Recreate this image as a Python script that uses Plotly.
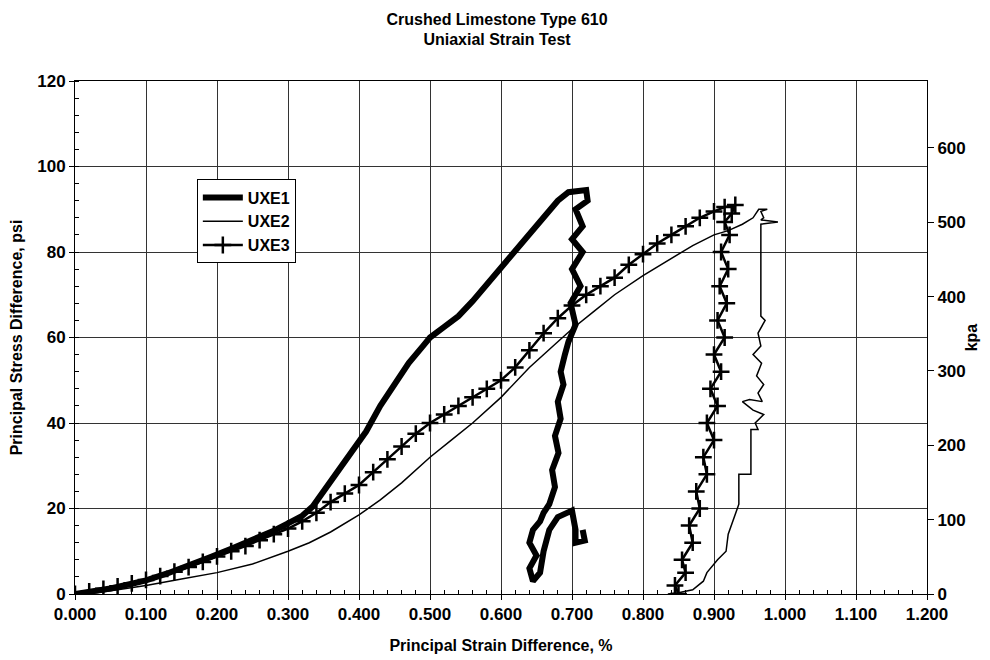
import plotly.graph_objects as go

# ---------------- data ----------------
uxe1_strain = [0.000, 0.020, 0.050, 0.080, 0.100, 0.130, 0.160, 0.190, 0.220, 0.250, 0.280, 0.300,
               0.320, 0.335, 0.350, 0.365, 0.380, 0.395, 0.410, 0.430, 0.450, 0.470, 0.490, 0.500,
               0.520, 0.540, 0.560, 0.580, 0.600, 0.620, 0.640, 0.660, 0.680, 0.695, 0.720,
               0.722, 0.705, 0.715, 0.700, 0.715, 0.700, 0.712, 0.698, 0.705, 0.695, 0.690, 0.684,
               0.688, 0.680, 0.684, 0.676, 0.681, 0.672, 0.676, 0.668, 0.660, 0.655, 0.645, 0.640,
               0.650, 0.640, 0.645, 0.655, 0.660, 0.668, 0.680, 0.700, 0.705, 0.705, 0.718, 0.715]
uxe1_psi = [0.0, 0.5, 1.3, 2.4, 3.2, 4.8, 6.6, 8.6, 10.6, 12.6, 14.8, 16.5,
            18.3, 20.5, 24.0, 27.5, 31.0, 34.0, 38.0, 44.0, 49.0, 54.0, 58.0, 60.0,
            62.5, 65.0, 68.5, 72.5, 76.5, 80.5, 84.5, 88.0, 92.0, 94.0, 94.5,
            92.0, 90.0, 86.0, 83.0, 80.0, 76.0, 72.0, 68.0, 63.0, 59.0, 56.0, 52.0,
            49.0, 45.0, 41.0, 37.0, 33.0, 29.0, 25.0, 21.0, 19.0, 17.0, 15.0, 12.0,
            9.0, 6.0, 3.0, 5.0, 10.0, 15.0, 18.0, 19.5, 15.0, 12.0, 12.5, 15.0]

uxe2_strain = [0.000, 0.030, 0.060, 0.100, 0.150, 0.200, 0.250, 0.300, 0.330, 0.360, 0.400, 0.430,
               0.460, 0.500, 0.530, 0.560, 0.600, 0.640, 0.680, 0.700, 0.730, 0.760, 0.800, 0.840,
               0.870, 0.900, 0.920, 0.940, 0.955, 0.963, 0.975, 0.966, 0.970, 0.966, 0.990, 0.966,
               0.966, 0.972, 0.962, 0.966, 0.955, 0.967, 0.960, 0.970, 0.962, 0.968, 0.950, 0.940,
               0.955, 0.970, 0.958, 0.962, 0.952, 0.952, 0.935, 0.935, 0.930, 0.920, 0.917, 0.905,
               0.890, 0.885, 0.870, 0.850, 0.835]
uxe2_psi = [0.0, 0.3, 1.0, 2.0, 3.5, 5.0, 7.0, 10.0, 12.0, 14.5, 18.5, 22.0,
            26.0, 32.0, 36.0, 40.0, 46.0, 53.0, 59.0, 62.0, 66.0, 70.0, 74.5, 78.5,
            81.5, 84.0, 85.0, 86.5, 88.0, 90.0, 90.0, 89.5, 88.0, 87.5, 87.0, 86.5,
            65.0, 64.0, 61.0, 58.0, 56.0, 54.0, 51.0, 49.0, 47.0, 45.0, 45.5, 45.0,
            43.0, 42.0, 40.0, 38.5, 38.5, 28.0, 28.0, 21.0, 18.5, 14.0, 10.0, 8.0,
            5.0, 3.0, 1.0, 0.3, 0.0]

uxe3_strain = [0.000, 0.020, 0.040, 0.060, 0.080, 0.100, 0.120, 0.140, 0.160, 0.180, 0.200, 0.220,
               0.240, 0.260, 0.280, 0.300, 0.320, 0.340, 0.360, 0.380, 0.400, 0.420, 0.440, 0.460,
               0.480, 0.500, 0.520, 0.540, 0.560, 0.580, 0.600, 0.620, 0.640, 0.660, 0.680, 0.700,
               0.720, 0.740, 0.760, 0.780, 0.800, 0.820, 0.840, 0.860, 0.880, 0.900, 0.915, 0.930,
               0.925, 0.915, 0.922, 0.910, 0.920, 0.908, 0.918, 0.905, 0.915, 0.900, 0.910, 0.895,
               0.905, 0.890, 0.900, 0.885, 0.890, 0.875, 0.880, 0.865, 0.870, 0.855, 0.860, 0.845,
               0.850]
uxe3_psi = [0.0, 0.6, 1.2, 1.8, 2.5, 3.3, 4.2, 5.2, 6.3, 7.5, 8.8, 10.0,
            11.2, 12.6, 14.0, 15.3, 17.0, 19.0, 21.5, 23.5, 25.5, 28.5, 31.5, 34.5,
            37.5, 40.0, 42.0, 44.0, 46.0, 48.0, 50.0, 53.0, 57.0, 61.0, 64.5, 67.5,
            70.0, 72.0, 74.0, 77.0, 79.5, 82.0, 84.0, 86.0, 88.0, 89.5, 90.5, 91.0,
            89.0, 87.0, 84.0, 80.0, 76.0, 72.0, 68.0, 64.0, 60.0, 56.0, 52.0, 48.0,
            44.0, 40.0, 36.0, 32.0, 28.0, 24.0, 20.0, 16.0, 12.0, 8.0, 5.0, 2.0,
            0.0]

x_ticks = [0.0, 0.1, 0.2, 0.3, 0.4, 0.5, 0.6, 0.7, 0.8, 0.9, 1.0, 1.1, 1.2]
psi_ticks = [0, 20, 40, 60, 80, 100, 120]
kpa_ticks = [0, 100, 200, 300, 400, 500, 600]

# ---------------- figure ----------------
FONT = "Liberation Sans, Arial, sans-serif"
bold = lambda s: dict(family=FONT, size=s, color="black", weight="bold")

fig = go.Figure()
fig.add_trace(go.Scatter(x=uxe1_strain, y=uxe1_psi, mode="lines", name="UXE1", legendgroup="a",
                         line=dict(color="black", width=6)))
fig.add_trace(go.Scatter(x=uxe2_strain, y=uxe2_psi, mode="lines", name="UXE2", legendgroup="b",
                         line=dict(color="black", width=1.5)))
fig.add_trace(go.Scatter(x=uxe3_strain, y=uxe3_psi, mode="lines+markers", name="UXE3", legendgroup="c",
                         line=dict(color="black", width=2.5),
                         marker=dict(symbol="cross-thin", size=12, color="black",
                                     line=dict(color="black", width=2.5))))
# empty trace only so that the secondary (kpa) axis is drawn
fig.add_trace(go.Scatter(x=[], y=[], yaxis="y2", showlegend=False, hoverinfo="skip"))

fig.update_layout(
    width=990, height=660,
    margin=dict(l=67, r=71, t=73, b=74),
    paper_bgcolor="white", plot_bgcolor="white",
    font=bold(16),
    title=dict(text="Crushed Limestone Type 610<br>Uniaxial Strain Test",
               x=0.494, xref="container", xanchor="center",
               y=0.975, yref="container", yanchor="middle", font=bold(16)),
    showlegend=True,
    legend=dict(x=0.143, y=0.808, xanchor="left", yanchor="top",
                bgcolor="white", bordercolor="black", borderwidth=1,
                font=bold(16), tracegroupgap=0, itemwidth=40),
    xaxis=dict(range=[0, 1.2], tickvals=x_ticks, tickformat=".3f", automargin=False,
               showgrid=True, gridcolor="#333", gridwidth=1,
               showline=True, linecolor="black", linewidth=1, mirror=True,
               ticks="outside", ticklen=5, tickcolor="black",
               minor=dict(dtick=0.02, ticks="inside", ticklen=4, tickcolor="black", showgrid=False),
               zeroline=False, tickfont=bold(17),
               title=dict(text="Principal Strain Difference, %", font=bold(16), standoff=16)),
    yaxis=dict(range=[0, 120], tickvals=psi_ticks, automargin=False,
               showgrid=True, gridcolor="#333", gridwidth=1,
               showline=True, linecolor="black", linewidth=1, mirror=True,
               ticks="outside", ticklen=5, tickcolor="black",
               minor=dict(dtick=4, ticks="inside", ticklen=4, tickcolor="black", showgrid=False),
               zeroline=False, tickfont=bold(17),
               title=dict(text="Principal Stress Difference, psi", font=bold(16), standoff=12)),
    yaxis2=dict(range=[0, 690], tickvals=kpa_ticks, overlaying="y", side="right", automargin=False,
                showgrid=False, showline=True, linecolor="black", linewidth=1,
                ticks="outside", ticklen=6, tickcolor="black", zeroline=False,
                tickfont=bold(17),
                title=dict(text="kpa", font=bold(16), standoff=1)),
)

fig.write_html("out.html")
